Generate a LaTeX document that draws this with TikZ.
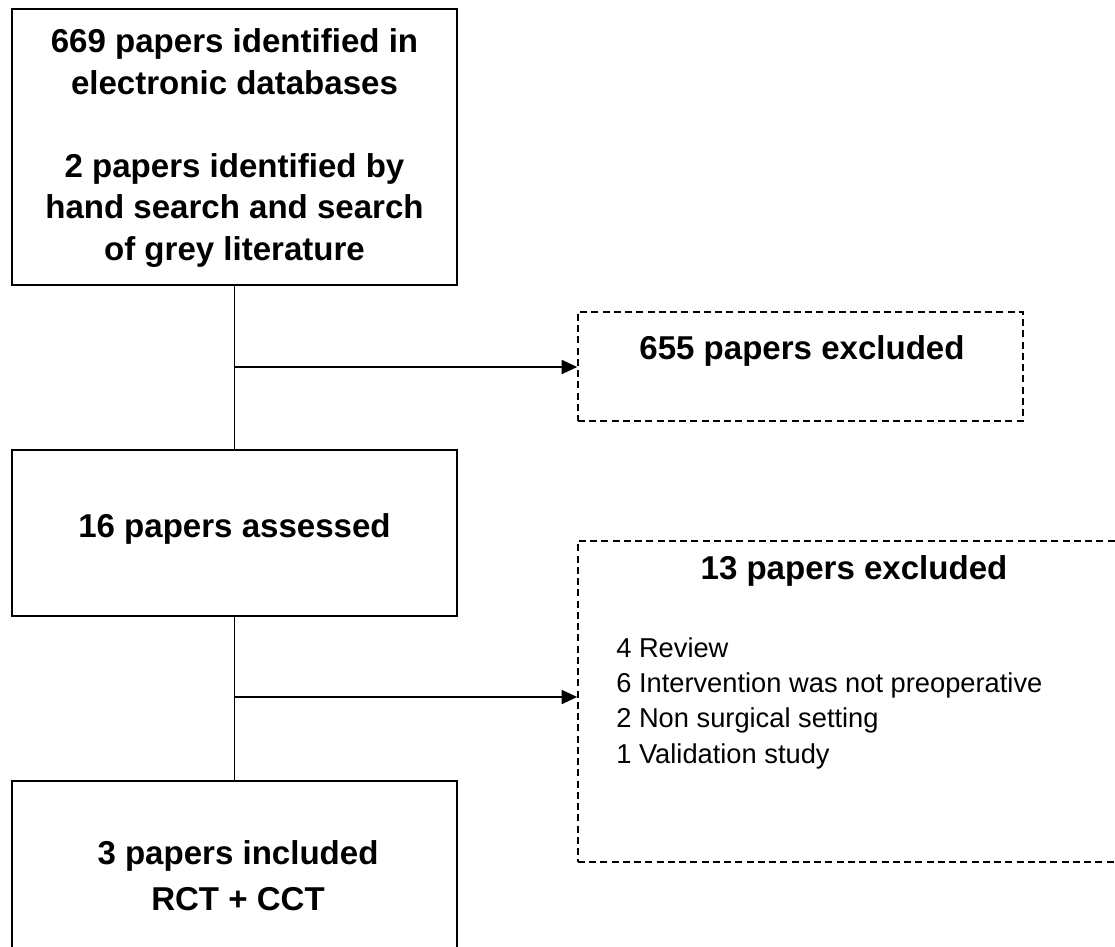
\documentclass[tikz,border=0pt]{standalone}
\usepackage{fontspec}
\setmainfont{Liberation Sans}
\usetikzlibrary{calc,arrows.meta}
\def\boldtext{\bfseries\fontsize{23.5pt}{29.5pt}\selectfont}
\def\listtext{\fontsize{19.4pt}{25.1pt}\selectfont}
\tikzset{
	flowbox/.style={draw, line width=1.1pt, inner sep=0pt},
	exclbox/.style={flowbox, dash pattern=on 5pt off 3pt},
	flowline/.style={line width=1.1pt},
	flowarrow/.style={line width=1.1pt, -{Triangle[length=11pt, width=10pt]}}
}
\begin{document}
\begin{tikzpicture}[x=0.025cm, y=-0.025cm]
			%%%%% START %%%%%
			\useasboundingbox (0, 0) rectangle (1115, 946);
			
			\node[flowbox, minimum width=11.125cm, minimum height=6.9cm] (ident) at (234.5, 147) {};
			\node[align=center, font=\boldtext] (identtext) at (234.5, 148) {669 papers identified in\\electronic databases\\[29.5pt]2 papers identified by\\hand search and search\\of grey literature};
			
			\node[exclbox, minimum width=11.125cm, minimum height=2.725cm] (excla) at (800.5, 366.5) {};
			\node[anchor=base, font=\boldtext] (exclatext) at (802, 359) {655 papers excluded};
			
			\node[flowbox, minimum width=11.125cm, minimum height=4.15cm] (assess) at (234.5, 533) {};
			\node[anchor=base, font=\boldtext] (assesstext) at (234.5, 537) {16 papers assessed};
			
			\node[exclbox, minimum width=13.8cm, minimum height=8.025cm] (exclb) at (854, 701.5) {};
			\node[anchor=base, font=\boldtext] (exclbtext) at (854, 579) {13 papers excluded};
			\node[anchor=base west, align=left, font=\listtext, inner sep=0pt] (reasons) at (616, 763) {4 Review\\6 Intervention was not preoperative\\2 Non surgical setting\\1 Validation study};
			
			\node[flowbox, minimum width=11.125cm, minimum height=4.5cm] (incl) at (234.5, 871) {};
			\node[align=center, font=\boldtext] (incltext) at (238, 876) {3 papers included\\[3pt]RCT + CCT};
			
			% connectors
			\coordinate (joina) at (234.5, 367);
			\coordinate (joinb) at (234.5, 697);
			\draw[flowline] (ident.south) -- (assess.north);
			\draw[flowline] (assess.south) -- (incl.north);
			\draw[flowarrow] (joina) -- (joina -| excla.west);
			\draw[flowarrow] (joinb) -- (joinb -| exclb.west);
			
			%%%%% END %%%%%
		\end{tikzpicture}
\end{document}
